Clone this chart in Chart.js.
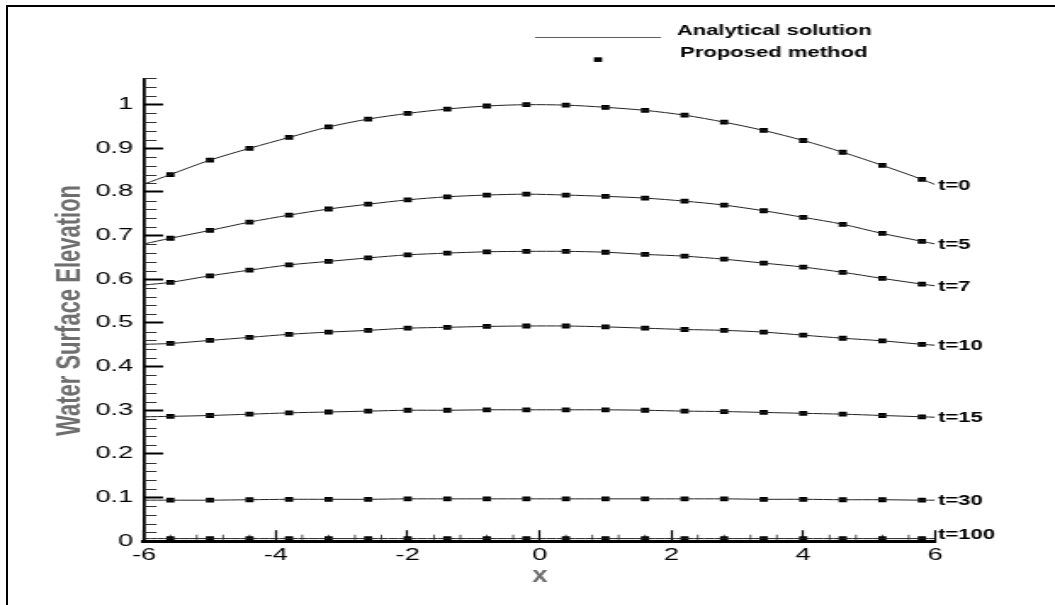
<!DOCTYPE html>
<html lang="en">

<head>
    <meta charset="UTF-8">
    <title>Water Surface Elevation</title>
    <script src="https://cdn.jsdelivr.net/npm/chart.js"></script>
    <style>
        body {
            margin: 0;
            background: #fff;
        }

        #moldura {
            position: absolute;
            left: 6px;
            top: 5px;
            right: 0;
            bottom: 0;
            border-top: 2px solid #000;
            border-left: 2px solid #000;
        }

        /* canvas desenhado estreito e esticado na horizontal */
        #grafico {
            position: absolute;
            left: 0;
            top: 0;
            width: 1055px !important;
            height: 605px !important;
        }
    </style>
</head>

<body>
    <div id="moldura"></div>
    <canvas id="grafico" width="621" height="605" style="width:1055px;height:605px"></canvas>

    <script>
        // posicoes em x das amostras
        const posX = [-6, -5.6, -5, -4.4, -3.8, -3.2, -2.6, -2, -1.4, -0.8, -0.2, 0.4, 1, 1.6, 2.2, 2.8, 3.4, 4, 4.6, 5.2, 5.8, 6];

        // elevacao para cada instante
        const elevT0 = [0.818, 0.840, 0.873, 0.900, 0.925, 0.949, 0.967, 0.980, 0.990, 0.997, 1.000, 0.999, 0.994, 0.987, 0.976, 0.960, 0.941, 0.918, 0.891, 0.861, 0.829, 0.817];
        const elevT5 = [0.681, 0.694, 0.712, 0.731, 0.747, 0.761, 0.772, 0.782, 0.789, 0.793, 0.795, 0.793, 0.790, 0.786, 0.779, 0.770, 0.757, 0.742, 0.726, 0.705, 0.687, 0.681];
        const elevT7 = [0.587, 0.593, 0.608, 0.621, 0.633, 0.641, 0.649, 0.656, 0.660, 0.663, 0.664, 0.664, 0.662, 0.657, 0.653, 0.646, 0.637, 0.628, 0.616, 0.602, 0.589, 0.585];
        const elevT10 = [0.451, 0.453, 0.460, 0.467, 0.474, 0.479, 0.483, 0.488, 0.490, 0.492, 0.493, 0.493, 0.491, 0.488, 0.485, 0.483, 0.479, 0.472, 0.465, 0.459, 0.451, 0.449];
        const elevT15 = [0.285, 0.286, 0.288, 0.291, 0.294, 0.296, 0.298, 0.300, 0.300, 0.301, 0.301, 0.301, 0.301, 0.300, 0.298, 0.297, 0.295, 0.293, 0.291, 0.288, 0.285, 0.284];
        const elevT30 = [0.094, 0.094, 0.094, 0.095, 0.096, 0.096, 0.096, 0.097, 0.097, 0.097, 0.097, 0.097, 0.097, 0.097, 0.097, 0.097, 0.096, 0.096, 0.095, 0.095, 0.094, 0.094];
        const elevT100 = [0.006, 0.006, 0.006, 0.006, 0.006, 0.006, 0.006, 0.006, 0.006, 0.006, 0.006, 0.006, 0.006, 0.006, 0.006, 0.006, 0.006, 0.006, 0.006, 0.006, 0.006, 0.006];

        const instantes = ['t=0', 't=5', 't=7', 't=10', 't=15', 't=30', 't=100'];
        const series = [elevT0, elevT5, elevT7, elevT10, elevT15, elevT30, elevT100];

        const ticksY = [0, 0.1, 0.2, 0.3, 0.4, 0.5, 0.6, 0.7, 0.8, 0.9, 1];
        const ticksX = [-6, -4, -2, 0, 2, 4, 6];

        const S = 1055 / 621; // esticamento horizontal do canvas
        const fonte = '"Liberation Sans", Arial, Helvetica, sans-serif';

        let datasets = [];
        for (let i = 0; i < series.length; i++) {
            // solucao analitica (linha)
            datasets.push({
                type: 'line',
                data: posX.map((x, k) => ({ x: x, y: series[i][k] })),
                borderColor: '#222',
                borderWidth: 1,
                pointRadius: 0,
                tension: 0.3,
                fill: false
            });
            // metodo proposto (marcadores nos pontos internos)
            datasets.push({
                type: 'scatter',
                data: posX.slice(1, -1).map((x, k) => ({ x: x, y: series[i][k + 1] })),
                pointStyle: 'rect',
                pointRadius: 3.4,
                backgroundColor: '#000',
                borderWidth: 0,
                showLine: false
            });
        }

        function texto(ctx, txt, x, y, kx, font, cor, align) {
            ctx.save();
            ctx.translate(x, y);
            ctx.scale(kx, 1);
            ctx.font = font;
            ctx.fillStyle = cor;
            ctx.textAlign = align;
            ctx.textBaseline = 'middle';
            ctx.fillText(txt, 0, 0);
            ctx.restore();
        }

        // tracinhos menores dos eixos
        const ticksMenores = {
            id: 'ticksMenores',
            beforeDatasetsDraw(chart) {
                const { ctx, scales: { x, y } } = chart;
                const base = y.getPixelForValue(0) - 1.5;
                ctx.save();
                ctx.strokeStyle = '#222';
                ctx.lineWidth = 0.8;
                for (let v = -6; v <= 6.001; v += 0.4) {
                    if (Math.abs(v / 2 - Math.round(v / 2)) < 1e-6) continue;
                    const px = x.getPixelForValue(v);
                    ctx.beginPath();
                    ctx.moveTo(px, base);
                    ctx.lineTo(px, base - 5);
                    ctx.stroke();
                }
                ctx.strokeStyle = '#333';
                ctx.lineWidth = 1;
                const esq = x.getPixelForValue(-6);
                for (let v = 0; v <= 1.061; v += 0.02) {
                    if (Math.abs(v * 10 - Math.round(v * 10)) < 1e-6) continue;
                    const py = Math.round(y.getPixelForValue(v)) + 0.5;
                    ctx.beginPath();
                    ctx.moveTo(esq, py);
                    ctx.lineTo(esq + 7.4, py);
                    ctx.stroke();
                }
                ctx.restore();
            }
        };

        // titulos, legenda e rotulos das curvas
        const textos = {
            id: 'textos',
            afterDraw(chart) {
                const { ctx, chartArea, scales: { y } } = chart;
                ctx.save();
                ctx.scale(1 / S, 1);

                // legenda
                ctx.strokeStyle = '#333';
                ctx.lineWidth = 1;
                ctx.beginPath();
                ctx.moveTo(535, 37.5);
                ctx.lineTo(661, 37.5);
                ctx.stroke();
                ctx.fillStyle = '#000';
                ctx.fillRect(594, 57.3, 8, 4.6);
                texto(ctx, 'Analytical solution', 677, 31, 1.46, 'bold 15px ' + fonte, '#000', 'left');
                texto(ctx, 'Proposed method', 680, 53, 1.47, 'bold 15px ' + fonte, '#000', 'left');

                // rotulo de cada curva no fim da linha
                const xr = chartArea.right * S + 3;
                for (let i = 0; i < series.length; i++) {
                    const ult = series[i][series[i].length - 1];
                    const dy = instantes[i] === 't=100' ? -3.5 : 1;
                    texto(ctx, instantes[i], xr, y.getPixelForValue(ult) + dy, 1.47, 'bold 15px ' + fonte, '#000', 'left');
                }

                // titulo do eixo x
                texto(ctx, 'x', 540, 576, 1.26, 'bold 22px ' + fonte, '#6e6e6e', 'center');

                // titulo do eixo y
                ctx.save();
                ctx.translate(69.5, 310.5);
                ctx.scale(1.59, 1);
                ctx.rotate(-Math.PI / 2);
                ctx.font = 'bold 22px ' + fonte;
                ctx.fillStyle = '#6e6e6e';
                ctx.textAlign = 'center';
                ctx.textBaseline = 'middle';
                ctx.fillText('Water Surface Elevation', 0, 0);
                ctx.restore();

                ctx.restore();
            }
        };

        const config = {
            type: 'scatter',
            data: { datasets: datasets },
            options: {
                responsive: false,
                devicePixelRatio: 1,
                animation: false,
                layout: {
                    padding: { top: 78.5, right: 70.6, left: 0, bottom: 0 }
                },
                plugins: {
                    legend: { display: false },
                    tooltip: { enabled: false }
                },
                scales: {
                    x: {
                        type: 'linear',
                        min: -6,
                        max: 6,
                        afterBuildTicks: (scale) => {
                            scale.ticks = ticksX.map(v => ({ value: v }));
                        },
                        afterFit: (scale) => {
                            scale.height = 605 - 541.2;
                        },
                        border: { display: true, color: '#000', width: 3 },
                        grid: {
                            drawOnChartArea: false,
                            drawTicks: true,
                            tickLength: -11,
                            tickWidth: 1.2,
                            tickColor: '#000'
                        },
                        ticks: {
                            padding: 15.7,
                            color: '#000',
                            maxRotation: 0,
                            font: { family: fonte, size: 16 },
                            callback: (v) => String(v)
                        }
                    },
                    y: {
                        type: 'linear',
                        min: 0,
                        max: 1.06,
                        afterBuildTicks: (scale) => {
                            scale.ticks = ticksY.map(v => ({ value: v }));
                        },
                        afterFit: (scale) => {
                            scale.width = 144 / S;
                        },
                        border: { display: true, color: '#000', width: 1.8 },
                        grid: {
                            drawOnChartArea: false,
                            drawTicks: true,
                            tickLength: -11.3,
                            tickWidth: 2,
                            tickColor: '#000'
                        },
                        ticks: {
                            padding: 17.6,
                            color: '#000',
                            font: { family: fonte, size: 16 },
                            callback: (v) => String(Number(v.toFixed(2)))
                        }
                    }
                }
            },
            plugins: [ticksMenores, textos]
        };

        const myChart = new Chart(document.getElementById('grafico'), config);
    </script>
</body>

</html>
